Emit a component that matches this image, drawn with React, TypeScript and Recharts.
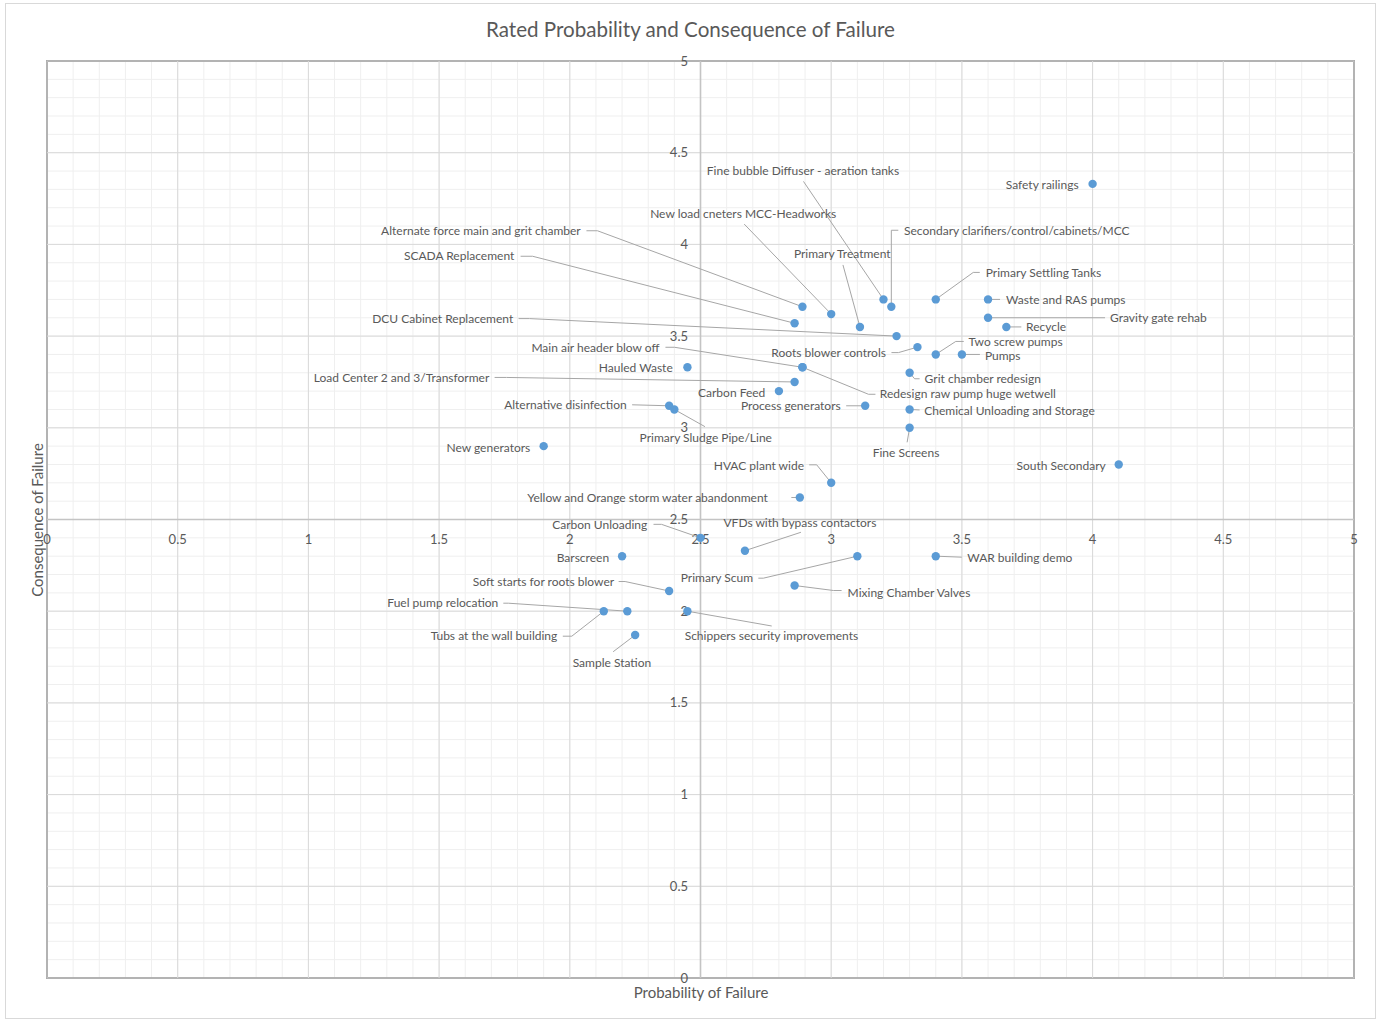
import React from 'react';
import {
  ScatterChart,
  Scatter,
  XAxis,
  YAxis,
  CartesianGrid,
  ReferenceLine,
  ReferenceArea,
} from 'recharts';

// Project ratings: probability (x) and consequence (y) of failure
const projects = [
  'Safety railings',
  'Fine bubble Diffuser - aeration tanks',
  'New load cneters MCC-Headworks',
  'Secondary clarifiers/control/cabinets/MCC',
  'Primary Treatment',
  'Primary Settling Tanks',
  'Waste and RAS pumps',
  'Gravity gate rehab',
  'Recycle',
  'Alternate force main and grit chamber',
  'SCADA Replacement',
  'DCU Cabinet Replacement',
  'Main air header blow off',
  'Hauled Waste',
  'Load Center 2 and 3/Transformer',
  'Carbon Feed',
  'Roots blower controls',
  'Two screw pumps',
  'Pumps',
  'Grit chamber redesign',
  'Redesign raw pump huge wetwell',
  'Process generators',
  'Chemical Unloading and Storage',
  'Fine Screens',
  'South Secondary',
  'HVAC plant wide',
  'Yellow and Orange storm water abandonment',
  'Alternative disinfection',
  'Primary Sludge Pipe/Line',
  'New generators',
  'Carbon Unloading',
  'VFDs with bypass contactors',
  'Barscreen',
  'Primary Scum',
  'WAR building demo',
  'Mixing Chamber Valves',
  'Soft starts for roots blower',
  'Fuel pump relocation',
  'Tubs at the wall building',
  'Sample Station',
  'Schippers security improvements',
];

const probability = [
  4.0, 3.2, 3.0, 3.23, 3.11, 3.4, 3.6, 3.6, 3.67, 2.89,
  2.86, 3.25, 2.89, 2.45, 2.86, 2.8, 3.33, 3.4, 3.5, 3.3,
  2.89, 3.13, 3.3, 3.3, 4.1, 3.0, 2.88, 2.38, 2.4, 1.9,
  2.5, 2.67, 2.2, 3.1, 3.4, 2.86, 2.38, 2.22, 2.13, 2.25,
  2.45,
];

const consequence = [
  4.33, 3.7, 3.62, 3.66, 3.55, 3.7, 3.7, 3.6, 3.55, 3.66,
  3.57, 3.5, 3.33, 3.33, 3.25, 3.2, 3.44, 3.4, 3.4, 3.3,
  3.33, 3.12, 3.1, 3.0, 2.8, 2.7, 2.62, 3.12, 3.1, 2.9,
  2.4, 2.33, 2.3, 2.3, 2.3, 2.14, 2.11, 2.0, 2.0, 1.87,
  2.0,
];

const majorTicks = [0, 0.5, 1, 1.5, 2, 2.5, 3, 3.5, 4, 4.5, 5];
const minorTicks = Array.from({ length: 51 }, (_, i) => i / 10);

const data = projects.map((name, i) => ({
  name,
  x: probability[i],
  y: consequence[i],
}));

const CHART_W = 1381;
const CHART_H = 1020;
const MARGIN = { top: 61, right: 27, bottom: 42, left: 47 };
const MID_X = MARGIN.left + (CHART_W - MARGIN.left - MARGIN.right) / 2;
const MID_Y = MARGIN.top + (CHART_H - MARGIN.top - MARGIN.bottom) / 2;

const FONT = 'Lato, "Open Sans", sans-serif';
const TEXT = '#595959';
const DOT = '#5b9bd5';
const LEADER = '#a6a6a6';

type Anchor = 'start' | 'middle' | 'end';
interface LabelPlacement {
  dx: number;
  dy: number;
  anchor: Anchor;
  leader?: [number, number][];
}

// where each label sits relative to its dot (px), plus leader line bends
const labelLayout: Record<string, LabelPlacement> = {
  'Safety railings': { dx: -14, dy: 1, anchor: 'end' },
  'Fine bubble Diffuser - aeration tanks': { dx: -80.5, dy: -129, anchor: 'middle', leader: [[-80, -118]] },
  'New load cneters MCC-Headworks': { dx: -88, dy: -100, anchor: 'middle', leader: [[-87, -90]] },
  'Secondary clarifiers/control/cabinets/MCC': { dx: 12.7, dy: -76, anchor: 'start', leader: [[7, -76.5], [0, -76.5]] },
  'Primary Treatment': { dx: -17.7, dy: -73, anchor: 'middle', leader: [[-17, -62]] },
  'Primary Settling Tanks': { dx: 50, dy: -27, anchor: 'start', leader: [[44, -27], [37.5, -27]] },
  'Waste and RAS pumps': { dx: 18, dy: 0.5, anchor: 'start', leader: [[12, 0]] },
  'Gravity gate rehab': { dx: 122, dy: 0.5, anchor: 'start', leader: [[117, 0]] },
  'Recycle': { dx: 19.7, dy: 0, anchor: 'start', leader: [[15, 0]] },
  'Alternate force main and grit chamber': { dx: -221.7, dy: -76, anchor: 'end', leader: [[-216, -76], [-205, -76]] },
  'SCADA Replacement': { dx: -280.3, dy: -67.3, anchor: 'end', leader: [[-274, -67], [-262, -67]] },
  'DCU Cabinet Replacement': { dx: -383.3, dy: -17.4, anchor: 'end', leader: [[-378, -17.5], [-367, -17.5]] },
  'Main air header blow off': { dx: -143, dy: -19.6, anchor: 'end', leader: [[-137, -20], [-128, -20]] },
  'Hauled Waste': { dx: -14.7, dy: 1, anchor: 'end' },
  'Load Center 2 and 3/Transformer': { dx: -305.3, dy: -4.2, anchor: 'end', leader: [[-300, -4.5], [-288, -4.5]] },
  'Carbon Feed': { dx: -13.6, dy: 1.5, anchor: 'end' },
  'Roots blower controls': { dx: -31.5, dy: 5.6, anchor: 'end', leader: [[-26, 5.5], [-19, 5.5]] },
  'Two screw pumps': { dx: 32.8, dy: -13, anchor: 'start', leader: [[28, -13], [20, -13]] },
  'Pumps': { dx: 23, dy: 1, anchor: 'start', leader: [[18, 0]] },
  'Grit chamber redesign': { dx: 15, dy: 6.5, anchor: 'start', leader: [[10, 6], [5, 6]] },
  'Redesign raw pump huge wetwell': { dx: 77.4, dy: 26.4, anchor: 'start', leader: [[73, 27], [66, 27]] },
  'Process generators': { dx: -24.5, dy: 0, anchor: 'end', leader: [[-19, 0]] },
  'Chemical Unloading and Storage': { dx: 14.7, dy: 1.5, anchor: 'start', leader: [[10, 0.5]] },
  'Fine Screens': { dx: -3.6, dy: 25.2, anchor: 'middle', leader: [[-2.5, 14.5]] },
  'South Secondary': { dx: -13, dy: 1.8, anchor: 'end' },
  'HVAC plant wide': { dx: -27.2, dy: -17, anchor: 'end', leader: [[-22, -18], [-14.5, -18]] },
  'Yellow and Orange storm water abandonment': { dx: -32, dy: 0.2, anchor: 'end', leader: [[-8.5, 0]] },
  'Alternative disinfection': { dx: -42.4, dy: -0.8, anchor: 'end', leader: [[-37, -1]] },
  'Primary Sludge Pipe/Line': { dx: 31.4, dy: 28.8, anchor: 'middle', leader: [[30.6, 17.2]] },
  'New generators': { dx: -13.4, dy: 1.6, anchor: 'end' },
  'Carbon Unloading': { dx: -53.2, dy: -12.8, anchor: 'end', leader: [[-47, -13.5], [-39, -13.5]] },
  'VFDs with bypass contactors': { dx: 55, dy: -27.4, anchor: 'middle', leader: [[56, -18.4]] },
  'Barscreen': { dx: -13, dy: 1.5, anchor: 'end' },
  'Primary Scum': { dx: -104.3, dy: 22, anchor: 'end', leader: [[-99, 22], [-94, 22]] },
  'WAR building demo': { dx: 31.5, dy: 1.5, anchor: 'start', leader: [[26, 1]] },
  'Mixing Chamber Valves': { dx: 53, dy: 7, anchor: 'start', leader: [[47, 5], [39, 5]] },
  'Soft starts for roots blower': { dx: -55, dy: -9, anchor: 'end', leader: [[-50.5, -9.5], [-44, -9.5]] },
  'Fuel pump relocation': { dx: -129, dy: -8, anchor: 'end', leader: [[-124, -8], [-119, -8]] },
  'Tubs at the wall building': { dx: -46.5, dy: 25, anchor: 'end', leader: [[-41, 25], [-32, 25]] },
  'Sample Station': { dx: -23.2, dy: 27.7, anchor: 'middle', leader: [[-22, 16.7]] },
  'Schippers security improvements': { dx: 84, dy: 24.8, anchor: 'middle', leader: [[84.3, 14.8]] },
};

// axis numbers sit along the crossing axes at 2.5 / 2.5
const XTickLabel = ({ viewBox, tickValue }: any) => (
  <text
    x={viewBox.x}
    y={MID_Y + 19.5}
    dy="0.35em"
    textAnchor="middle"
    fontSize={13}
    fill={TEXT}
    fontFamily={FONT}
  >
    {tickValue}
  </text>
);

const YTickLabel = ({ viewBox, tickValue }: any) => (
  <text
    x={MID_X - 12.5}
    y={viewBox.y}
    dy="0.35em"
    textAnchor="end"
    fontSize={13}
    fill={TEXT}
    fontFamily={FONT}
  >
    {tickValue}
  </text>
);

// axis ticks only feed the minor grid; nothing is drawn for them
const BlankTick = () => <g />;

const LabelMark = (props: any) => {
  const { cx, cy, payload } = props;
  const place = labelLayout[payload?.name];
  if (!place || cx == null) return <g />;
  const pts = [...(place.leader ?? []), [0, 0]];
  return (
    <g>
      {place.leader && (
        <polyline
          points={pts.map(([dx, dy]) => `${cx + dx},${cy + dy}`).join(' ')}
          fill="none"
          stroke={LEADER}
          strokeWidth={1}
        />
      )}
      <text
        x={cx + place.dx}
        y={cy + place.dy}
        dy="0.35em"
        textAnchor={place.anchor}
        fontSize={12}
        fill={TEXT}
        fontFamily={FONT}
      >
        {payload.name}
      </text>
    </g>
  );
};

const DotMark = ({ cx, cy }: any) => <circle cx={cx} cy={cy} r={4.2} fill={DOT} />;

const App = () => (
  <div
    style={{
      position: 'absolute',
      left: 0,
      top: 0,
      width: CHART_W,
      height: CHART_H,
      background: '#fff',
      fontFamily: FONT,
    }}
  >
    <div
      style={{
        position: 'absolute',
        left: 5,
        top: 3,
        width: 1369,
        height: 1014,
        border: '1px solid #d9d9d9',
      }}
    />
    <div
      style={{
        position: 'absolute',
        left: 0,
        width: CHART_W,
        top: 15,
        textAlign: 'center',
        fontSize: 20.6,
        color: TEXT,
        lineHeight: '28px',
      }}
    >
      Rated Probability and Consequence of Failure
    </div>
    <ScatterChart width={CHART_W} height={CHART_H} margin={MARGIN}>
      <CartesianGrid stroke="#efefef" strokeWidth={1} />
      {majorTicks.map((t) => (
        <ReferenceLine key={`vx-${t}`} x={t} stroke="#d9d9d9" strokeWidth={1} />
      ))}
      {majorTicks.map((t) => (
        <ReferenceLine key={`hy-${t}`} y={t} stroke="#d9d9d9" strokeWidth={1} />
      ))}
      <ReferenceArea x1={0} x2={5} y1={0} y2={5} fill="none" stroke="#6b6b6b" strokeWidth={1.5} />
      <ReferenceLine x={2.5} stroke="#c4c4c4" strokeWidth={1.6} />
      <ReferenceLine y={2.5} stroke="#c4c4c4" strokeWidth={1.6} />
      {majorTicks.map((t) => (
        <ReferenceLine
          key={`xl-${t}`}
          x={t}
          stroke="none"
          label={(p: any) => <XTickLabel viewBox={p.viewBox} tickValue={t} />}
        />
      ))}
      {majorTicks.map((t) => (
        <ReferenceLine
          key={`yl-${t}`}
          y={t}
          stroke="none"
          label={(p: any) => <YTickLabel viewBox={p.viewBox} tickValue={t} />}
        />
      ))}
      <XAxis
        type="number"
        dataKey="x"
        domain={[0, 5]}
        ticks={minorTicks}
        interval={0}
        allowDataOverflow
        height={0}
        axisLine={false}
        tickLine={false}
        tick={<BlankTick />}
      />
      <YAxis
        type="number"
        dataKey="y"
        domain={[0, 5]}
        ticks={minorTicks}
        interval={0}
        allowDataOverflow
        width={0}
        axisLine={false}
        tickLine={false}
        tick={<BlankTick />}
      />
      <Scatter data={data} shape={<LabelMark />} isAnimationActive={false} />
      <Scatter data={data} shape={<DotMark />} fill={DOT} isAnimationActive={false} />
    </ScatterChart>
    <div
      style={{
        position: 'absolute',
        left: 0,
        width: 1402,
        top: 982,
        textAlign: 'center',
        fontSize: 15,
        color: TEXT,
        lineHeight: '20px',
      }}
    >
      Probability of Failure
    </div>
    <div
      style={{
        position: 'absolute',
        left: 37,
        top: 520,
        transform: 'translate(-50%, -50%) rotate(-90deg)',
        whiteSpace: 'nowrap',
        fontSize: 15,
        color: TEXT,
        lineHeight: '20px',
      }}
    >
      Consequence of Failure
    </div>
  </div>
);

export default App;
